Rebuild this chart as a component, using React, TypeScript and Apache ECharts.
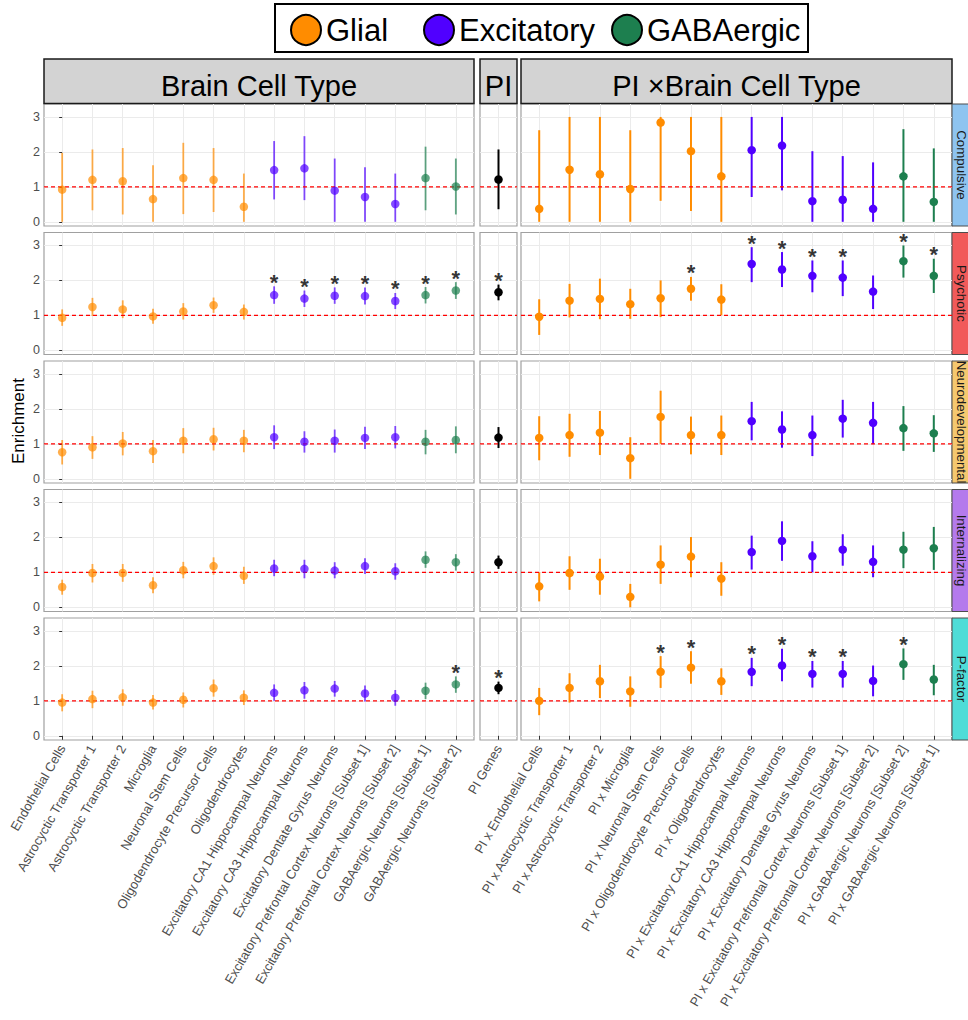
import React, { useEffect, useRef } from "react";
import * as echarts from "echarts";

// ---------- categories ----------
const cellTypes = [
  "Endothelial Cells",
  "Astrocyctic Transporter 1",
  "Astrocyctic Transporter 2",
  "Microglia",
  "Neuronal Stem Cells",
  "Oligodendrocyte Precursor Cells",
  "Oligodendrocytes",
  "Excitatory CA1 Hippocampal Neurons",
  "Excitatory CA3 Hippocampal Neurons",
  "Excitatory Dentate Gyrus Neurons",
  "Excitatory Prefrontal Cortex Neurons [Subset 1]",
  "Excitatory Prefrontal Cortex Neurons [Subset 2]",
  "GABAergic Neurons [Subset 1]",
  "GABAergic Neurons [Subset 2]",
];
const piCellTypes = [
  "PI x Endothelial Cells",
  "PI x Astrocyctic Transporter 1",
  "PI x Astrocyctic Transporter 2",
  "PI x Microglia",
  "PI x Neuronal Stem Cells",
  "PI x Oligodendrocyte Precursor Cells",
  "PI x Oligodendrocytes",
  "PI x Excitatory CA1 Hippocampal Neurons",
  "PI x Excitatory CA3 Hippocampal Neurons",
  "PI x Excitatory Dentate Gyrus Neurons",
  "PI x Excitatory Prefrontal Cortex Neurons [Subset 1]",
  "PI x Excitatory Prefrontal Cortex Neurons [Subset 2]",
  "PI x GABAergic Neurons [Subset 2]",
  "PI x GABAergic Neurons [Subset 1]",
];
const piGeneLabels = ["PI Genes"];
const cellGroups = [
  "Glial", "Glial", "Glial", "Glial", "Glial", "Glial", "Glial",
  "Excitatory", "Excitatory", "Excitatory", "Excitatory", "Excitatory",
  "GABAergic", "GABAergic",
];
const piCellGroups = [
  "Glial", "Glial", "Glial", "Glial", "Glial", "Glial", "Glial",
  "Excitatory", "Excitatory", "Excitatory", "Excitatory", "Excitatory",
  "GABAergic", "GABAergic",
];
const groupNames = ["Glial", "Excitatory", "GABAergic"];
const groupColors = ["#FF8C00", "#5000FF", "#1D7F4F"];
const traits = ["Compulsive", "Psychotic", "Neurodevelopmental", "Internalizing", "P-factor"];
const traitColors = ["#8EC4F0", "#F15A5A", "#F5C86F", "#B47AEC", "#4FDCD7"];
const facetTitles = ["Brain Cell Type", "PI", "PI \u00D7Brain Cell Type"];
const yTicks = [0, 1, 2, 3];
const referenceLevel = 1;

// ---------- values: [enrichment, lower, upper] ----------
const compulsiveCell = [
  [0.92, 0, 1.97], [1.2, 0.33, 2.07], [1.16, 0.21, 2.11], [0.65, 0, 1.62], [1.25, 0.22, 2.26],
  [1.2, 0.28, 2.11], [0.43, 0, 1.38], [1.48, 0.64, 2.31], [1.53, 0.62, 2.45], [0.89, 0, 1.81],
  [0.71, 0, 1.56], [0.51, 0, 1.38], [1.25, 0.33, 2.15], [1.01, 0.21, 1.81],
];
const psychoticCell = [
  [0.93, 0.7, 1.17], [1.24, 0.98, 1.5], [1.17, 0.92, 1.43], [0.97, 0.76, 1.19], [1.11, 0.88, 1.35],
  [1.29, 1.07, 1.51], [1.1, 0.88, 1.31], [1.58, 1.33, 1.83], [1.48, 1.24, 1.71], [1.56, 1.33, 1.8],
  [1.55, 1.31, 1.8], [1.41, 1.18, 1.64], [1.58, 1.34, 1.81], [1.71, 1.47, 1.95],
];
const neurodevelopmentalCell = [
  [0.76, 0.41, 1.11], [0.9, 0.57, 1.22], [1.01, 0.67, 1.34], [0.79, 0.45, 1.11], [1.09, 0.73, 1.45],
  [1.13, 0.81, 1.46], [1.09, 0.76, 1.4], [1.19, 0.85, 1.53], [1.06, 0.75, 1.36], [1.09, 0.75, 1.41],
  [1.17, 0.85, 1.49], [1.19, 0.87, 1.51], [1.06, 0.7, 1.4], [1.11, 0.73, 1.5],
];
const internalizingCell = [
  [0.58, 0.36, 0.79], [0.98, 0.71, 1.24], [0.98, 0.73, 1.24], [0.63, 0.4, 0.86], [1.06, 0.83, 1.3],
  [1.18, 0.93, 1.43], [0.9, 0.67, 1.16], [1.11, 0.89, 1.36], [1.1, 0.83, 1.36], [1.05, 0.83, 1.29],
  [1.18, 0.95, 1.4], [1.03, 0.79, 1.26], [1.36, 1.13, 1.6], [1.29, 1.05, 1.52],
];
const pfactorCell = [
  [0.95, 0.7, 1.19], [1.05, 0.79, 1.29], [1.1, 0.86, 1.33], [0.95, 0.75, 1.17], [1.03, 0.81, 1.24],
  [1.36, 1.12, 1.61], [1.09, 0.88, 1.3], [1.23, 1.0, 1.47], [1.3, 1.06, 1.54], [1.35, 1.12, 1.57],
  [1.21, 0.98, 1.44], [1.09, 0.86, 1.31], [1.29, 1.05, 1.52], [1.47, 1.23, 1.7],
];
// PI genes, one per trait (same order as traits)
const piGenes = [
  [1.21, 0.36, 2.07], [1.66, 1.43, 1.88], [1.18, 0.88, 1.48], [1.29, 1.1, 1.48], [1.37, 1.19, 1.55],
];
const compulsivePiCell = [
  [0.37, 0, 2.62], [1.49, 0, 3], [1.36, 0, 3], [0.94, 0, 2.62], [2.84, 0.6, 3],
  [2.02, 0.31, 3], [1.3, 0, 3], [2.05, 0.71, 3], [2.18, 0.9, 3], [0.59, 0, 2.02],
  [0.63, 0, 1.88], [0.37, 0, 1.7], [1.3, 0, 2.65], [0.57, 0, 2.1],
];
const psychoticPiCell = [
  [0.96, 0.44, 1.46], [1.42, 0.94, 1.9], [1.47, 0.89, 2.05], [1.32, 0.9, 1.76], [1.49, 0.95, 2.0],
  [1.76, 1.42, 2.1], [1.45, 1.0, 1.89], [2.47, 1.95, 2.95], [2.31, 1.81, 2.81], [2.13, 1.66, 2.57],
  [2.08, 1.55, 2.57], [1.68, 1.18, 2.14], [2.55, 2.08, 3.0], [2.13, 1.64, 2.62],
];
const neurodevelopmentalPiCell = [
  [1.17, 0.53, 1.79], [1.25, 0.63, 1.86], [1.32, 0.68, 1.94], [0.59, 0, 1.19], [1.77, 1.0, 2.52],
  [1.25, 0.7, 1.78], [1.25, 0.68, 1.81], [1.65, 1.1, 2.2], [1.41, 0.89, 1.93], [1.25, 0.65, 1.81],
  [1.72, 1.18, 2.26], [1.6, 0.99, 2.2], [1.45, 0.8, 2.08], [1.3, 0.77, 1.82],
];
const internalizingPiCell = [
  [0.6, 0.17, 1.0], [0.98, 0.5, 1.46], [0.88, 0.36, 1.39], [0.3, 0, 0.67], [1.22, 0.67, 1.77],
  [1.45, 0.86, 2.01], [0.82, 0.33, 1.29], [1.58, 1.08, 2.05], [1.9, 1.33, 2.46], [1.46, 1.0, 1.89],
  [1.65, 1.19, 2.09], [1.3, 0.86, 1.77], [1.65, 1.12, 2.16], [1.69, 1.07, 2.3],
];
const pfactorPiCell = [
  [1.0, 0.59, 1.37], [1.37, 0.95, 1.79], [1.56, 1.08, 2.03], [1.27, 0.83, 1.7], [1.83, 1.37, 2.28],
  [1.95, 1.49, 2.42], [1.56, 1.17, 1.93], [1.83, 1.42, 2.23], [2.01, 1.56, 2.49], [1.77, 1.38, 2.14],
  [1.77, 1.38, 2.14], [1.57, 1.13, 2.01], [2.05, 1.6, 2.5], [1.61, 1.16, 2.03],
];

// significance markers (category indices), per trait
const cellStars = [[], [7, 8, 9, 10, 11, 12, 13], [], [], [13]];
const piGeneStarTraits = [1, 4];
const piCellStars = [[], [5, 7, 8, 9, 10, 12, 13], [], [], [4, 5, 7, 8, 9, 10, 12]];

const cellRows = [compulsiveCell, psychoticCell, neurodevelopmentalCell, internalizingCell, pfactorCell];
const piCellRows = [compulsivePiCell, psychoticPiCell, neurodevelopmentalPiCell, internalizingPiCell, pfactorPiCell];

// ---------- layout / style ----------
const FONT = "'Liberation Sans', Arial, Helvetica, sans-serif";
const ROW_TOP0 = 104;
const ROW_STEP = 128.5;
const PANEL_H = 122;
const Y_MIN = -0.12;
const Y_MAX = 3.37;
const COLS = [
  { left: 44, width: 430 },
  { left: 480, width: 37 },
  { left: 521, width: 431 },
];

function buildOption() {
  const grids: any[] = [];
  const xAxes: any[] = [];
  const yAxes: any[] = [];
  const series: any[] = [];

  for (let r = 0; r < traits.length; r++) {
    for (let c = 0; c < 3; c++) {
      const g = r * 3 + c;
      const col = COLS[c];
      const top = ROW_TOP0 + r * ROW_STEP;
      const labels = c === 0 ? cellTypes : c === 1 ? piGeneLabels : piCellTypes;
      const rows = c === 0 ? cellRows[r] : c === 1 ? [piGenes[r]] : piCellRows[r];
      const groups = c === 0 ? cellGroups : c === 1 ? ["PI Genes"] : piCellGroups;
      const stars = c === 0 ? cellStars[r] : c === 1 ? (piGeneStarTraits.includes(r) ? [0] : []) : piCellStars[r];
      const n = labels.length;
      const idxs = labels.map((_, i) => i);
      const isBottom = r === traits.length - 1;

      grids.push({
        left: col.left,
        top,
        width: col.width,
        height: PANEL_H,
        show: true,
        borderColor: "#A0A0A0",
        borderWidth: 1.2,
        backgroundColor: "#FFFFFF",
        containLabel: false,
        outerBoundsMode: "none",
      });
      xAxes.push({
        gridIndex: g,
        type: "value",
        min: -0.6,
        max: n - 1 + 0.6,
        axisLine: { show: false },
        axisTick: {
          show: isBottom,
          customValues: idxs,
          length: 4,
          lineStyle: { color: "#333333", width: 1 },
        },
        axisLabel: {
          show: isBottom,
          customValues: idxs,
          rotate: 60,
          margin: 6,
          fontSize: 13,
          color: "#4D4D4D",
          fontFamily: FONT,
          formatter: (v: number) => labels[Math.round(v)] ?? "",
        },
        splitLine: { show: true, lineStyle: { color: "#EBEBEB", width: 1 } },
      });
      yAxes.push({
        gridIndex: g,
        type: "value",
        min: Y_MIN,
        max: Y_MAX,
        axisLine: { show: false },
        axisTick: {
          show: c === 0,
          customValues: yTicks,
          length: 3,
          lineStyle: { color: "#333333", width: 1 },
        },
        axisLabel: {
          show: c === 0,
          customValues: yTicks,
          margin: 4,
          fontSize: 12.5,
          color: "#4D4D4D",
          fontFamily: FONT,
        },
        splitLine: { show: true, lineStyle: { color: "#EBEBEB", width: 1 } },
      });

      const opacity = c === 0 ? 0.7 : 1;
      const lw = c === 0 ? 1.8 : 2;
      const groupList = c === 1 ? ["PI Genes"] : groupNames;

      // error bars
      for (const gn of groupList) {
        const color = c === 1 ? "#000000" : groupColors[groupNames.indexOf(gn)];
        const ids = idxs.filter((i) => groups[i] === gn);
        series.push({
          type: "custom",
          name: gn,
          xAxisIndex: g,
          yAxisIndex: g,
          data: ids.map((i) => [i, rows[i][1], rows[i][2]]),
          encode: { x: 0, y: [1, 2] },
          silent: true,
          z: 2,
          itemStyle: { color, opacity },
          renderItem: (_p: any, api: any) => {
            const x = api.value(0);
            const p1 = api.coord([x, api.value(1)]);
            const p2 = api.coord([x, api.value(2)]);
            return {
              type: "line",
              shape: { x1: p1[0], y1: p1[1], x2: p2[0], y2: p2[1] },
              style: { stroke: color, lineWidth: lw, opacity },
            };
          },
        });
      }

      // dashed reference line at enrichment = 1, spanning the panel
      series.push({
        type: "custom",
        name: "reference",
        xAxisIndex: g,
        yAxisIndex: g,
        data: [[0, referenceLevel]],
        encode: { x: 0, y: 1 },
        silent: true,
        z: 3,
        renderItem: (params: any, api: any) => {
          const cs = params.coordSys;
          const y = api.coord([api.value(0), api.value(1)])[1];
          return {
            type: "line",
            shape: { x1: cs.x, y1: y, x2: cs.x + cs.width, y2: y },
            style: { stroke: "#FF0000", lineWidth: 1.1, lineDash: [4, 3], fill: "none" },
          };
        },
      });

      // points
      for (const gn of groupList) {
        const color = c === 1 ? "#000000" : groupColors[groupNames.indexOf(gn)];
        const ids = idxs.filter((i) => groups[i] === gn);
        series.push({
          type: "scatter",
          name: gn,
          xAxisIndex: g,
          yAxisIndex: g,
          data: ids.map((i) => [i, rows[i][0]]),
          symbol: "circle",
          symbolSize: 8.5,
          silent: true,
          z: 4,
          itemStyle: { color, opacity },
        });
      }

      // significance stars
      series.push({
        type: "scatter",
        name: "significant",
        xAxisIndex: g,
        yAxisIndex: g,
        data: stars.map((i) => [i, rows[i][2]]),
        symbol: "circle",
        symbolSize: 0,
        silent: true,
        z: 5,
        itemStyle: { color: "rgba(0,0,0,0)" },
        label: {
          show: true,
          formatter: "*",
          position: "inside",
          offset: [0, -4],
          fontSize: 22,
          fontWeight: "bold",
          color: "#000000",
          fontFamily: FONT,
        },
      });
    }
  }

  // legends (one per group, placed like the reference)
  const legendLefts = [290, 423, 611];
  const legends = groupNames.map((gn, i) => ({
    left: legendLefts[i],
    top: 14,
    padding: 0,
    orient: "horizontal",
    selectedMode: false,
    itemWidth: 30,
    itemHeight: 30,
    textStyle: { fontSize: 31, color: "#000000", fontFamily: FONT },
    data: [
      {
        name: gn,
        icon: "circle",
        itemStyle: { color: groupColors[i], opacity: 1, borderColor: "#000000", borderWidth: 2 },
      },
    ],
  }));

  const graphic: any[] = [];
  graphic.push({
    type: "rect",
    silent: true,
    z: 0,
    shape: { x: 275, y: 4, width: 533, height: 48 },
    style: { fill: "#FFFFFF", stroke: "#000000", lineWidth: 2 },
  });
  COLS.forEach((col, c) => {
    graphic.push({
      type: "rect",
      silent: true,
      shape: { x: col.left, y: 59, width: col.width, height: 44.5 },
      style: { fill: "#D3D3D3", stroke: "#1A1A1A", lineWidth: 1.5 },
    });
    graphic.push({
      type: "text",
      silent: true,
      x: col.left + col.width / 2,
      y: 86,
      style: {
        text: facetTitles[c],
        fontSize: 29,
        fontFamily: FONT,
        fill: "#000000",
        align: "center",
        verticalAlign: "middle",
      },
    });
  });
  traits.forEach((t, r) => {
    const top = ROW_TOP0 + r * ROW_STEP;
    graphic.push({
      type: "rect",
      silent: true,
      shape: { x: 952, y: top, width: 24, height: PANEL_H },
      style: { fill: traitColors[r], stroke: "#4D4D4D", lineWidth: 1 },
    });
    graphic.push({
      type: "text",
      silent: true,
      x: 961,
      y: top + PANEL_H / 2,
      rotation: -Math.PI / 2,
      style: {
        text: t,
        fontSize: 13.3,
        fontFamily: FONT,
        fill: "#1A1A1A",
        align: "center",
        verticalAlign: "middle",
      },
    });
  });
  graphic.push({
    type: "text",
    silent: true,
    x: 18,
    y: 421,
    rotation: Math.PI / 2,
    style: {
      text: "Enrichment",
      fontSize: 17,
      fontFamily: FONT,
      fill: "#000000",
      align: "center",
      verticalAlign: "middle",
    },
  });

  return {
    animation: false,
    backgroundColor: "#FFFFFF",
    textStyle: { fontFamily: FONT },
    grid: grids,
    xAxis: xAxes,
    yAxis: yAxes,
    legend: legends,
    graphic,
    series,
  };
}

export default function App() {
  const ref = useRef<HTMLDivElement>(null);
  useEffect(() => {
    if (!ref.current) return;
    const chart = echarts.init(ref.current, null, { renderer: "svg" });
    chart.setOption(buildOption() as any);
    return () => {
      chart.dispose();
    };
  }, []);
  return (
    <div
      ref={ref}
      style={{ position: "absolute", left: 0, top: 0, width: 968, height: 1020 }}
    />
  );
}
